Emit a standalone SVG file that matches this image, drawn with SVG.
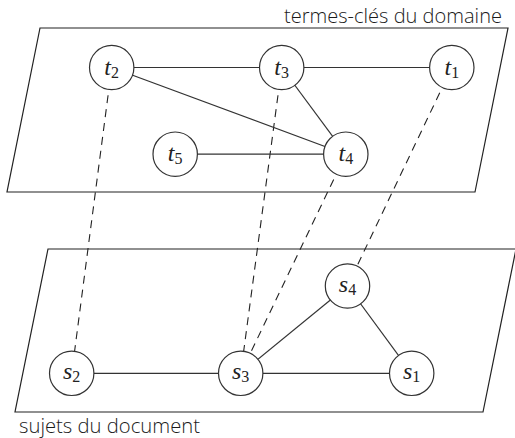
<svg xmlns="http://www.w3.org/2000/svg" width="515" height="438" viewBox="0 0 515 438">
  <style>
    .plane { fill: none; stroke: #222; stroke-width: 1.2; }
    .edge { stroke: #333; stroke-width: 1.2; fill: none; }
    .link { stroke: #222; stroke-width: 1.1; stroke-dasharray: 8 6; fill: none; }
    .node circle { fill: #fff; stroke: #333; stroke-width: 1.2; }
    .math { font-family: "Liberation Serif", "DejaVu Serif", serif; font-style: italic; font-size: 24px; fill: #222; text-anchor: middle; }
    .sub { font-style: normal; font-size: 16px; }
    .caption { font-family: "Open Sans", "Noto Sans", sans-serif; font-weight: 300; font-size: 20px; fill: #1a1a1a; }
  </style>

  <!-- the two planes -->
  <g id="planes">
    <polygon class="plane" points="40,28 508,28 475,192 7,192"/>
    <polygon class="plane" points="48,249 516,249 483,412 15,412"/>
  </g>

  <text class="caption" x="284" y="22.5" textLength="218" lengthAdjust="spacingAndGlyphs">termes-clés du domaine</text>
  <text class="caption" x="19" y="433" textLength="181" lengthAdjust="spacingAndGlyphs">sujets du document</text>

  <!-- connectors -->
  <g id="connectors">
    <!-- vertical correspondences between the planes -->
    <line class="link" x1="111.7" y1="67.5" x2="71.7" y2="373.3"/>
    <line class="link" x1="281.7" y1="67.5" x2="240.7" y2="373.3"/>
    <line class="link" x1="345.8" y1="154.2" x2="240.7" y2="373.3"/>
    <line class="link" x1="451.8" y1="67.5" x2="347.5" y2="286"/>
    <!-- term graph -->
    <line class="edge" x1="111.7" y1="67.5" x2="281.7" y2="67.5"/>
    <line class="edge" x1="281.7" y1="67.5" x2="451.8" y2="67.5"/>
    <line class="edge" x1="111.7" y1="67.5" x2="345.8" y2="154.2"/>
    <line class="edge" x1="281.7" y1="67.5" x2="345.8" y2="154.2"/>
    <line class="edge" x1="175.2" y1="154.2" x2="345.8" y2="154.2"/>
    <!-- subject graph -->
    <line class="edge" x1="71.7" y1="373.3" x2="240.7" y2="373.3"/>
    <line class="edge" x1="240.7" y1="373.3" x2="411.7" y2="373.3"/>
    <line class="edge" x1="240.7" y1="373.3" x2="347.5" y2="286"/>
    <line class="edge" x1="347.5" y1="286" x2="411.7" y2="373.3"/>
  </g>

  <!-- term nodes -->
  <g id="t1" class="node">
    <circle cx="451.8" cy="67.5" r="22.2"/>
    <text class="math" x="451.8" y="74.5">t<tspan class="sub" dy="3">1</tspan></text>
  </g>
  <g id="t2" class="node">
    <circle cx="111.7" cy="67.5" r="22.2"/>
    <text class="math" x="111.7" y="74.5">t<tspan class="sub" dy="3">2</tspan></text>
  </g>
  <g id="t3" class="node">
    <circle cx="281.7" cy="67.5" r="22.2"/>
    <text class="math" x="281.7" y="74.5">t<tspan class="sub" dy="3">3</tspan></text>
  </g>
  <g id="t4" class="node">
    <circle cx="345.8" cy="154.2" r="22.2"/>
    <text class="math" x="345.8" y="161.2">t<tspan class="sub" dy="3">4</tspan></text>
  </g>
  <g id="t5" class="node">
    <circle cx="175.2" cy="154.2" r="22.2"/>
    <text class="math" x="175.2" y="161.2">t<tspan class="sub" dy="3">5</tspan></text>
  </g>

  <!-- subject nodes -->
  <g id="s1" class="node">
    <circle cx="411.7" cy="373.3" r="22.2"/>
    <text class="math" x="411.7" y="379.3">s<tspan class="sub" dy="3">1</tspan></text>
  </g>
  <g id="s2" class="node">
    <circle cx="71.7" cy="373.3" r="22.2"/>
    <text class="math" x="71.7" y="379.3">s<tspan class="sub" dy="3">2</tspan></text>
  </g>
  <g id="s3" class="node">
    <circle cx="240.7" cy="373.3" r="22.2"/>
    <text class="math" x="240.7" y="379.3">s<tspan class="sub" dy="3">3</tspan></text>
  </g>
  <g id="s4" class="node">
    <circle cx="347.5" cy="286" r="22.2"/>
    <text class="math" x="347.5" y="292">s<tspan class="sub" dy="3">4</tspan></text>
  </g>
</svg>
